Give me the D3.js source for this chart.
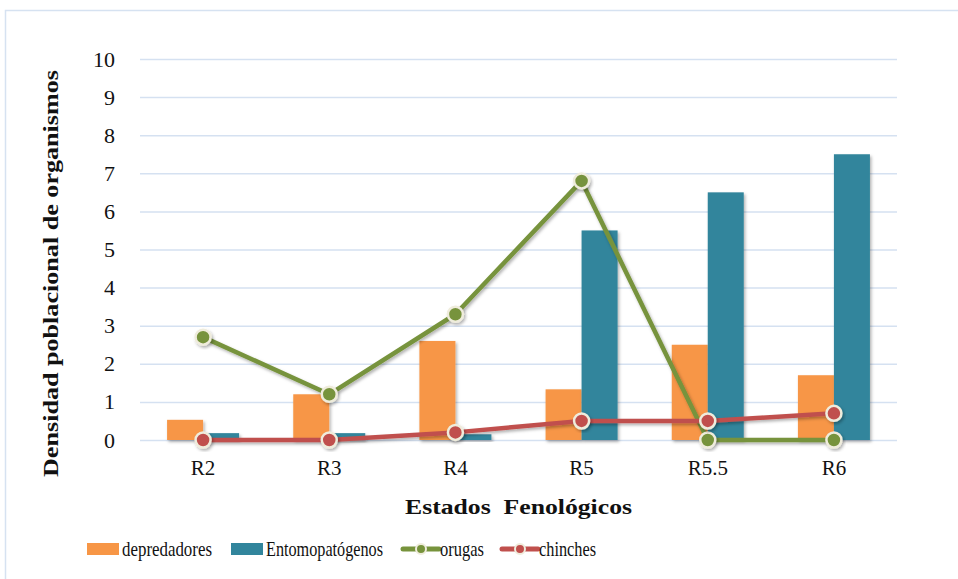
<!DOCTYPE html>
<html>
<head>
<meta charset="utf-8">
<script src="https://cdn.jsdelivr.net/npm/d3@7"></script>
<style>
  body { margin: 0; background: #fff; }
  text { font-family: "Liberation Serif", "DejaVu Serif", serif; }
</style>
</head>
<body>
<script>
// data
var estados = ["R2", "R3", "R4", "R5", "R5.5", "R6"]
var depredadores = [0.53, 1.2, 2.6, 1.33, 2.5, 1.7]
var entomopatogenos = [0.18, 0.18, 0.15, 5.5, 6.5, 7.5]
var orugas = [2.7, 1.2, 3.3, 6.8, 0, 0]
var chinches = [0, 0, 0.2, 0.5, 0.5, 0.7]
var yTicks = [0, 1, 2, 3, 4, 5, 6, 7, 8, 9, 10]

var screen = {width: 958, height: 579}
var margins = {top: 59, bottom: 139, left: 140, right: 61}
var width = screen.width - margins.left - margins.right
var height = screen.height - margins.top - margins.bottom

var svg = d3.select("body")
  .append("svg")
  .attr("width", screen.width)
  .attr("height", screen.height)

// soft shadow like the office chart
var defs = svg.append("defs")
var f = defs.append("filter").attr("id", "shadow")
  .attr("x", "-30%").attr("y", "-30%").attr("width", "160%").attr("height", "160%")
f.append("feDropShadow")
  .attr("dx", 1.5).attr("dy", 2).attr("stdDeviation", 1.5)
  .attr("flood-color", "#000").attr("flood-opacity", 0.3)

// outer frame
svg.append("rect")
  .attr("x", 5.5).attr("y", 10.5)
  .attr("width", 1000).attr("height", 700)
  .attr("fill", "none")
  .attr("stroke", "#d6e2f1")
  .attr("stroke-width", 1.5)

var xScale = d3.scaleBand()
  .domain(estados)
  .range([0, width])

var yScale = d3.scaleLinear()
  .domain([0, 10])
  .range([height, 0])

var plot = svg.append("g")
  .attr("transform", "translate(" + margins.left + "," + margins.top + ")")

// gridlines
plot.append("g")
  .attr("id", "grid")
  .call(d3.axisLeft(yScale).tickValues(yTicks).tickSize(-width).tickFormat(""))
  .call(function(g) { g.select(".domain").remove() })
  .selectAll("line")
  .attr("stroke", "#d5e1f1")
  .attr("stroke-width", 1.5)

// y tick labels
var yAxis = plot.append("g")
  .attr("id", "yAxis")
  .call(d3.axisLeft(yScale).tickValues(yTicks).tickSize(0).tickPadding(25))
yAxis.select(".domain").remove()
yAxis.selectAll("text")
  .attr("font-size", 22)
  .attr("font-family", "Liberation Serif")
  .attr("fill", "#111")

// x labels
var xAxis = plot.append("g")
  .attr("id", "xAxis")
  .attr("transform", "translate(0," + height + ")")
  .call(d3.axisBottom(xScale).tickSize(0).tickPadding(20))
xAxis.select(".domain").remove()
xAxis.selectAll("text")
  .attr("font-size", 21)
  .attr("font-family", "Liberation Serif")
  .attr("fill", "#111")

var barW = 36

// bars
plot.append("g").attr("id", "bar1")
  .selectAll("rect")
  .data(depredadores)
  .enter()
  .append("rect")
  .attr("x", function(d, i) { return xScale(estados[i]) + xScale.bandwidth() / 2 - barW })
  .attr("y", function(d) { return yScale(d) })
  .attr("width", barW)
  .attr("height", function(d) { return height - yScale(d) })
  .attr("fill", "#f79646")
  .attr("filter", "url(#shadow)")

plot.append("g").attr("id", "bar2")
  .selectAll("rect")
  .data(entomopatogenos)
  .enter()
  .append("rect")
  .attr("x", function(d, i) { return xScale(estados[i]) + xScale.bandwidth() / 2 })
  .attr("y", function(d) { return yScale(d) })
  .attr("width", barW)
  .attr("height", function(d) { return height - yScale(d) })
  .attr("fill", "#31859c")
  .attr("filter", "url(#shadow)")

var line = d3.line()
  .x(function(d, i) { return xScale(estados[i]) + xScale.bandwidth() / 2 })
  .y(function(d) { return yScale(d) })

var drawLine = function(values, color, id)
{
  var g = plot.append("g").attr("id", id)
  g.append("path")
    .datum(values)
    .attr("d", line)
    .attr("fill", "none")
    .attr("stroke", color)
    .attr("stroke-width", 4.5)
    .attr("stroke-linejoin", "round")
    .attr("filter", "url(#shadow)")
  g.selectAll("circle")
    .data(values)
    .enter()
    .append("circle")
    .attr("cx", function(d, i) { return xScale(estados[i]) + xScale.bandwidth() / 2 })
    .attr("cy", function(d) { return yScale(d) })
    .attr("r", 7.5)
    .attr("fill", color)
    .attr("stroke", "#efecdc")
    .attr("stroke-width", 2.5)
    .attr("filter", "url(#shadow)")
}

drawLine(orugas, "#77933c", "orugas")
drawLine(chinches, "#c0504d", "chinches")

// axis titles
svg.append("text")
  .attr("x", 405)
  .attr("y", 514)
  .attr("font-weight", "bold")
  .attr("font-size", 22)
  .attr("fill", "#111")
  .attr("xml:space", "preserve")
  .attr("textLength", 227)
  .attr("lengthAdjust", "spacingAndGlyphs")
  .text("Estados  Fenológicos")

svg.append("text")
  .attr("transform", "translate(58,477) rotate(-90)")
  .attr("font-weight", "bold")
  .attr("font-size", 22)
  .attr("fill", "#111")
  .attr("textLength", 407)
  .attr("lengthAdjust", "spacingAndGlyphs")
  .text("Densidad poblacional de organismos")

// legend
var legendY = 549
var legend = svg.append("g").attr("id", "legend")

var legendItems = [
  {name: "depredadores", color: "#f79646", type: "bar", x: 87, w: 90},
  {name: "Entomopatógenos", color: "#31859c", type: "bar", x: 231, w: 117},
  {name: "orugas", color: "#77933c", type: "line", x: 403, w: 44},
  {name: "chinches", color: "#c0504d", type: "line", x: 502, w: 57}
]

var gs = legend.selectAll("g")
  .data(legendItems)
  .enter()
  .append("g")
  .attr("transform", function(d) { return "translate(" + d.x + "," + legendY + ")" })

gs.filter(function(d) { return d.type == "bar" })
  .append("rect")
  .attr("x", 0).attr("y", -6)
  .attr("width", 32).attr("height", 12)
  .attr("fill", function(d) { return d.color })

gs.filter(function(d) { return d.type == "line" })
  .append("line")
  .attr("x1", 0).attr("x2", 36)
  .attr("y1", 0).attr("y2", 0)
  .attr("stroke", function(d) { return d.color })
  .attr("stroke-width", 5)
  .attr("stroke-linecap", "round")

gs.filter(function(d) { return d.type == "line" })
  .append("circle")
  .attr("cx", 18).attr("cy", 0).attr("r", 5)
  .attr("fill", function(d) { return d.color })
  .attr("stroke", "#efecdc")
  .attr("stroke-width", 2)

gs.append("text")
  .attr("x", function(d) { return d.type == "bar" ? 35 : 37 })
  .attr("y", 7)
  .attr("font-size", 22)
  .attr("fill", "#111")
  .attr("textLength", function(d) { return d.w })
  .attr("lengthAdjust", "spacingAndGlyphs")
  .text(function(d) { return d.name })
</script>
</body>
</html>
